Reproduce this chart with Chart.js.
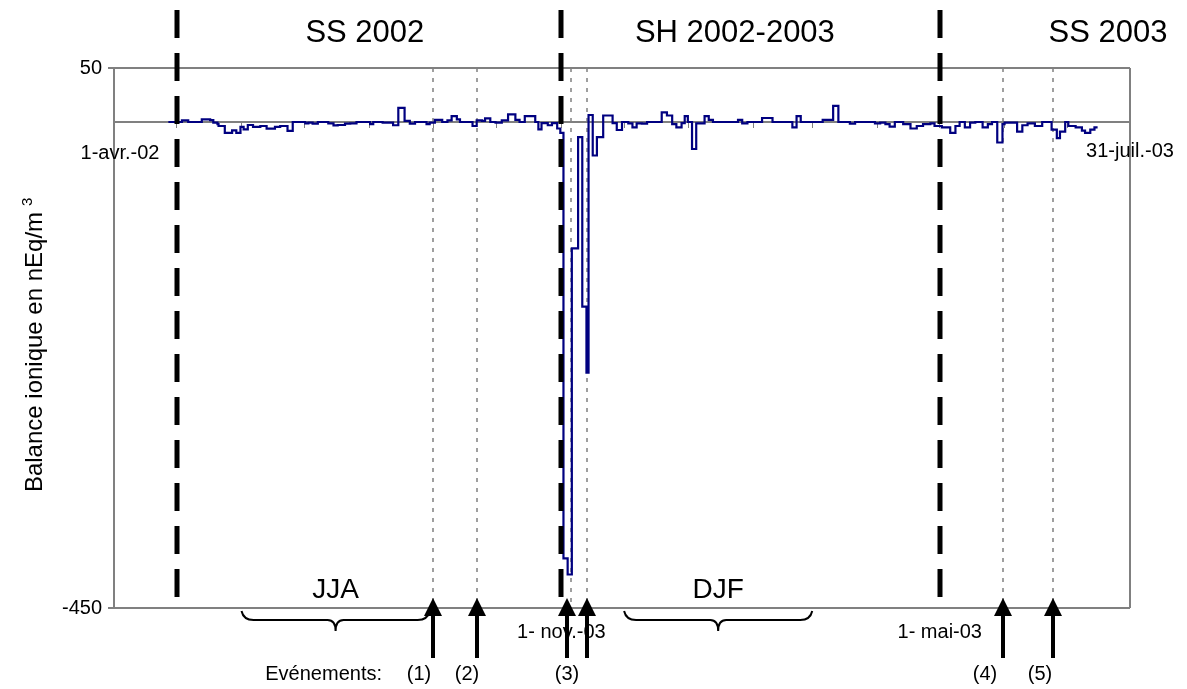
<!DOCTYPE html>
<html>
<head>
<meta charset="utf-8">
<script src="https://cdn.jsdelivr.net/npm/chart.js@4.4.1/dist/chart.umd.min.js"></script>
<style>
  html, body { margin: 0; padding: 0; background: #fff; }
</style>
</head>
<body>
<canvas id="chart" width="1187" height="689"></canvas>
<script>
// x = jours depuis le 1-avr.-02 (486 = 31-juil.-03)
const stepDays = [26, 32.5, 35.5, 42, 46, 47.5, 49.5, 50, 53, 56.5,
  58.5, 60.5, 62, 64, 66.5, 70, 73, 77, 79.5, 83,
  85.5, 91.5, 93, 95, 97.5, 102.5, 105, 107, 110.5, 113,
  116, 122.5, 124, 128.5, 133.5, 136, 139, 141.5, 144, 149.5,
  151, 153.5, 157, 159.5, 161.5, 164, 165.5, 171.5, 173.5, 176,
  177.5, 180, 182.5, 185.5, 188.5, 192, 194, 196.5, 201.5, 203,
  204.5, 207.5, 209.5, 212, 213.5, 215, 217, 219, 222, 224,
  226, 227, 229, 231, 234, 238.5, 240.5, 243, 246, 248,
  250, 252.5, 255, 262, 264.5, 267, 269, 271.5, 273, 274.5,
  276.5, 278.5, 282.5, 284.5, 286.5, 298.5, 300.5, 303, 310, 315,
  324.5, 326.5, 328.5, 339, 344, 346.5, 352, 354.5, 364, 366.5,
  369, 371, 373.5, 377.5, 381, 384, 387, 390.5, 392.5, 396,
  400, 402.5, 404.5, 407, 409.5, 412, 415.5, 418, 420, 422.5,
  425, 426, 432, 434.5, 437, 440.5, 444, 448.5, 451, 452.5,
  455, 456.5, 460, 463, 464.5, 467, 469, 470.5];

const stepValues = [0, 1.5, 0, 2.5, 1.8, -0.6, -2, -3.7, -10, -7.7,
  -10, -4.6, -6.8, -2.8, -4.6, -3.7, -6.2, -4.6, -3.7, -8.3,
  0, -1.2, -0.6, -1.5, 0, -1.2, -3.1, -2.8, -1.5, -1.2,
  0, -2, 0, -0.6, -3, 13, 1, -1.5, 0, -2,
  -0.6, 2, 0, 1.5, 5.5, 2.5, 0, -3.7, 1.5, 1,
  3.4, 0, -0.6, 1.5, 7, 2, 0, 5.5, 0, -6.8,
  -1, -3, -1, -6, -10, -404, -419, -117, -14, -171,
  -232, 6.5, -31, -14, 6, -1, -7.4, 0, -1.2, -5,
  -1.2, -1.5, 0, 9, 6, -2, -5, -1, 5.5, 0,
  -25, -1.2, 5.5, 2, 0, 2, -1.2, 0, 3.7, 0,
  -5, 5.5, 0, 2, 15, 0, -1.5, 0, -1.2, -0.6,
  -2, -4.3, 0, -2, -6, -3.7, -2, -1.2, -3.7, -5,
  -10, -3.7, 0, -5, -0.6, 0, -5, -2, 0, -19,
  -2, -0.6, -9, -3, -1.2, -3.7, 0, -7, -15, -9,
  0, -3.7, -5, -8, -10, -7, -5, -5];

const xTickDays = [0, 30, 61, 91, 122, 153, 183, 214, 244, 275, 306, 334, 365, 395, 426, 456, 486];
const yTickValues = [-450, 50];
const axisEndLabels = ['1-avr.-02', '31-juil.-03'];

const seasonStartDays = [30, 214, 395];
const seasonNames = ['SS 2002', 'SH 2002-2003', 'SS 2003'];
const seasonLabelDays = [120, 297, 475.5];

const dateNoteLabels = ['1- nov.-03', '1- mai-03'];
const dateNoteDays = [214, 395];

const braceNames = ['JJA', 'DJF'];
const braceStartDays = [61, 244];
const braceEndDays = [151, 334];

const eventDays = [152.7, 173.5, 218.6, 226.1, 425.4, 449];
const eventLabels = ['(1)', '(2)', '(3)', '', '(4)', '(5)'];

const FONT = "'Liberation Sans', Arial, sans-serif";
const GREY = '#808080';
const eventLabelShift = [-14, -10, -2, 0, -18, -13];

function brace(ctx, x1, x2) {
  const y0 = 611, y1 = 620, tip = 631, xm = (x1 + x2) / 2;
  ctx.beginPath();
  ctx.moveTo(x1, y0);
  ctx.quadraticCurveTo(x1 + 2, y1, x1 + 12, y1);
  ctx.lineTo(xm - 8, y1);
  ctx.quadraticCurveTo(xm, y1, xm, tip);
  ctx.quadraticCurveTo(xm, y1, xm + 8, y1);
  ctx.lineTo(x2 - 12, y1);
  ctx.quadraticCurveTo(x2 - 2, y1, x2, y0);
  ctx.stroke();
}

const overlay = {
  id: 'overlay',
  beforeDatasetsDraw(chart) {
    const {ctx, chartArea: a, scales: {x}} = chart;
    ctx.save();
    ctx.strokeStyle = GREY;
    ctx.lineWidth = 2;
    ctx.beginPath(); ctx.moveTo(a.right, a.top); ctx.lineTo(a.right, a.bottom); ctx.stroke();
    ctx.lineWidth = 1.5;
    ctx.setLineDash([4, 6]);
    eventDays.forEach(d => {
      const px = Math.round(x.getPixelForValue(d));
      ctx.beginPath(); ctx.moveTo(px, a.top); ctx.lineTo(px, a.bottom); ctx.stroke();
    });
    ctx.restore();
  },
  afterDatasetsDraw(chart) {
    const {ctx, chartArea: a, scales: {x}} = chart;
    ctx.save();
    ctx.strokeStyle = '#000';
    ctx.lineWidth = 5;
    ctx.setLineDash([28, 15]);
    seasonStartDays.forEach(d => {
      const px = Math.round(x.getPixelForValue(d));
      ctx.beginPath(); ctx.moveTo(px, 10); ctx.lineTo(px, a.bottom); ctx.stroke();
    });
    ctx.restore();
  },
  afterDraw(chart) {
    const {ctx, scales: {x}} = chart;
    ctx.save();
    ctx.fillStyle = '#000';
    ctx.strokeStyle = '#000';
    ctx.textAlign = 'center';
    ctx.textBaseline = 'alphabetic';

    // saisons
    ctx.font = '31px ' + FONT;
    seasonNames.forEach((n, i) => ctx.fillText(n, x.getPixelForValue(seasonLabelDays[i]), 42));

    // dates extrêmes de l'axe
    ctx.font = '20px ' + FONT;
    ctx.fillText(axisEndLabels[0], x.getPixelForValue(0) + 6, 159);
    ctx.fillText(axisEndLabels[1], x.getPixelForValue(486), 157);
    dateNoteLabels.forEach((n, i) => ctx.fillText(n, x.getPixelForValue(dateNoteDays[i]), 638));

    // accolades JJA / DJF
    ctx.lineWidth = 2;
    braceNames.forEach((n, i) => {
      const x1 = x.getPixelForValue(braceStartDays[i]), x2 = x.getPixelForValue(braceEndDays[i]);
      brace(ctx, x1, x2);
      ctx.font = '28px ' + FONT;
      ctx.fillText(n, (x1 + x2) / 2, 598);
    });

    // événements
    ctx.font = '20px ' + FONT;
    ctx.textAlign = 'right';
    ctx.fillText('Evénements:', 382, 680);
    ctx.textAlign = 'center';
    eventDays.forEach((d, i) => {
      const px = Math.round(x.getPixelForValue(d)) + (i === 2 ? -4 : 0);
      ctx.lineWidth = 4;
      ctx.beginPath(); ctx.moveTo(px, 658); ctx.lineTo(px, 612); ctx.stroke();
      ctx.beginPath(); ctx.moveTo(px, 598); ctx.lineTo(px - 9, 616); ctx.lineTo(px + 9, 616); ctx.closePath(); ctx.fill();
      if (eventLabels[i]) ctx.fillText(eventLabels[i], px + eventLabelShift[i] + (i === 2 ? 2 : 0), 680);
    });

    // titre de l'axe Y (m puis exposant 3)
    ctx.translate(42, 342);
    ctx.rotate(-Math.PI / 2);
    ctx.font = '24px ' + FONT;
    const main = 'Balance ionique en nEq/m';
    const w = ctx.measureText(main).width;
    ctx.textAlign = 'left';
    ctx.fillText(main, -(w + 20) / 2, 0);
    ctx.font = '15px ' + FONT;
    ctx.fillText('3', -(w + 20) / 2 + w + 6, -10);
    ctx.restore();
  }
};

new Chart(document.getElementById('chart'), {
  type: 'line',
  data: {
    datasets: [{
      data: stepDays.map((d, i) => ({x: d, y: stepValues[i]})),
      stepped: true,
      borderColor: '#000080',
      borderWidth: 2.2,
      pointRadius: 0,
      fill: false
    }]
  },
  options: {
    responsive: false,
    animation: false,
    devicePixelRatio: 1,
    layout: { padding: { top: 68, right: 57, bottom: 81, left: 0 } },
    plugins: { legend: { display: false }, tooltip: { enabled: false } },
    scales: {
      x: {
        type: 'linear',
        min: 0,
        max: 486,
        position: { y: 0 },
        afterBuildTicks: s => { s.ticks = xTickDays.map(v => ({value: v})); },
        ticks: { display: false },
        grid: { drawOnChartArea: false, drawTicks: true, tickLength: 5, color: GREY },
        border: { color: GREY, width: 2 }
      },
      y: {
        min: -450,
        max: 50,
        afterBuildTicks: s => { s.ticks = yTickValues.map(v => ({value: v})); },
        afterFit: s => { s.width = 114; },
        ticks: { color: '#000', font: { family: FONT, size: 20 }, padding: 6 },
        grid: { color: GREY, lineWidth: 2, tickLength: 6 },
        border: { color: GREY, width: 2 }
      }
    }
  },
  plugins: [overlay]
});
</script>
</body>
</html>
